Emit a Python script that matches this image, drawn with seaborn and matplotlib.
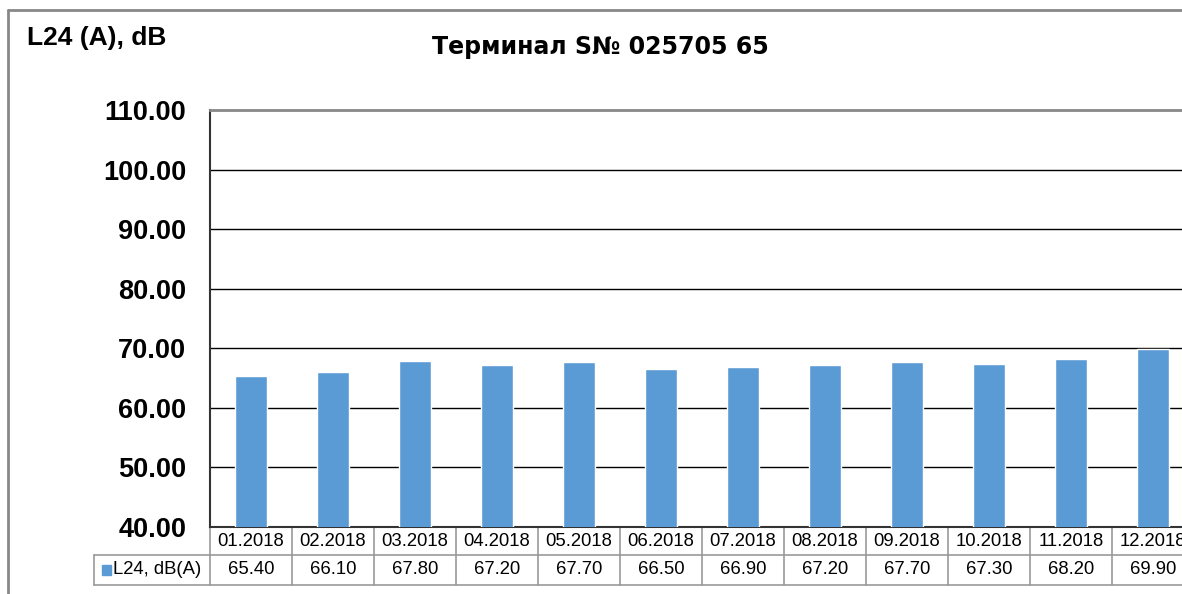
import matplotlib.pyplot as plt
import matplotlib.transforms as mtransforms
import pandas as pd
import seaborn as sns

sns.set_theme(style="white")
plt.rcParams["font.family"] = ["Liberation Sans", "DejaVu Sans"]
plt.rcParams["text.color"] = "black"

months = ["01.2018", "02.2018", "03.2018", "04.2018", "05.2018", "06.2018",
          "07.2018", "08.2018", "09.2018", "10.2018", "11.2018", "12.2018"]
l24 = [65.40, 66.10, 67.80, 67.20, 67.70, 66.50,
       66.90, 67.20, 67.70, 67.30, 68.20, 69.90]
y_ticks = [40, 50, 60, 70, 80, 90, 100, 110]
series_name = "L24, dB(A)"
title = "Терминал S№ 025705 65"
y_title = "L24 (A), dB"

BAR_COLOR = "#5B9BD5"
GRID_COLOR = "#000000"
TABLE_COLOR = "#999999"

df = pd.DataFrame({"month": months, "value": l24})

W, H = 1182, 594
fig = plt.figure(figsize=(W / 100, H / 100), dpi=100)
# plot area runs past the right edge of the picture, as in the reference
ax = fig.add_axes([210 / W, 1 - 527 / H, 984 / W, 417 / H])

sns.barplot(data=df, x="month", y="value", color=BAR_COLOR, width=0.39,
            saturation=1, ax=ax, zorder=3)

ax.set_ylim(40, 110)
ax.set_xlim(-0.5, len(months) - 0.5)
ax.set_yticks(y_ticks)
ax.set_yticklabels([f"{t:.2f}" for t in y_ticks], fontsize=19.5, fontweight="bold")
ax.tick_params(axis="y", length=0, pad=17, labelcolor="black")
ax.set_xticks([])
ax.set_xlabel("")
ax.set_ylabel("")

for t in y_ticks[1:-1]:
    ax.axhline(t, color=GRID_COLOR, linewidth=1, zorder=1)

ax.spines["right"].set_visible(False)
ax.spines["top"].set_color("#888888")
ax.spines["top"].set_linewidth(2)
ax.spines["left"].set_color("#333333")
ax.spines["left"].set_linewidth(1.5)
ax.spines["bottom"].set_color("#333333")
ax.spines["bottom"].set_linewidth(1.5)

# data table under the axis
trans = mtransforms.blended_transform_factory(ax.transData, ax.transAxes)
row1 = -28 / 417
row2 = -58 / 417
legend_left = (94 - 210) / 82 - 0.5
n = len(months)
lk = dict(color=TABLE_COLOR, linewidth=1.2, transform=trans, clip_on=False)
for i in range(n + 1):
    ax.plot([i - 0.5, i - 0.5], [0, row2], **lk)
ax.plot([legend_left, legend_left], [row1, row2], **lk)
ax.plot([legend_left, n - 0.5], [row1, row1], **lk)
ax.plot([legend_left, n - 0.5], [row2, row2], **lk)

for i, (m, v) in enumerate(zip(months, l24)):
    ax.text(i, row1 / 2, m, transform=trans, ha="center", va="center",
            fontsize=13.3, color="black", clip_on=False)
    ax.text(i, (row1 + row2) / 2, f"{v:.2f}", transform=trans, ha="center",
            va="center", fontsize=13.3, color="black", clip_on=False)

# legend key of the table
key = plt.Rectangle((102 / W, 1 - 575 / H), 9 / W, 10 / H, color=BAR_COLOR,
                    transform=fig.transFigure)
fig.add_artist(key)
fig.text(113 / W, 1 - 570 / H, series_name, ha="left", va="center",
         fontsize=13.3, color="black")

fig.text(600 / W, 1 - 47 / H, title, ha="center", va="center", fontsize=17,
         fontweight="bold", family=["DejaVu Sans"], color="black")
fig.text(27 / W, 1 - 38 / H, y_title, ha="left", va="center", fontsize=19,
         fontweight="bold", color="black")

# outer chart frame
fig.add_artist(plt.Line2D([8 / W, 8 / W], [0, 1 - 10 / H], color="#888888",
                          linewidth=2, transform=fig.transFigure))
fig.add_artist(plt.Line2D([8 / W, 1], [1 - 10 / H, 1 - 10 / H], color="#888888",
                          linewidth=2, transform=fig.transFigure))

fig.savefig("out.png", dpi=100)
